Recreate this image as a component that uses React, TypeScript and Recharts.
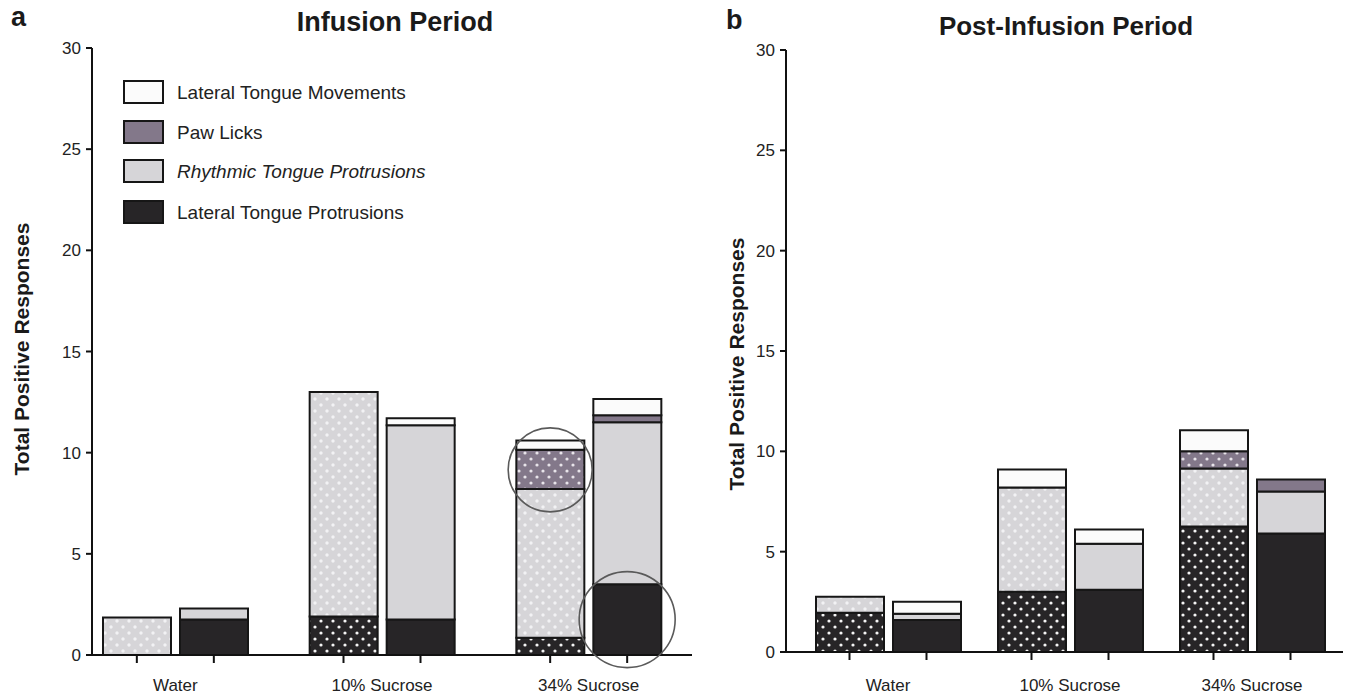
import { BarChart, Bar, XAxis, YAxis, ReferenceDot } from "recharts";

const categories = ["Water", "10% Sucrose", "34% Sucrose"];
const yTicks = [0, 5, 10, 15, 20, 25, 30];

const seriesNames = [
  "Lateral Tongue Movements",
  "Paw Licks",
  "Rhythmic Tongue Protrusions",
  "Lateral Tongue Protrusions",
];

// a: Infusion Period (left bar of each pair is the dotted one)
const infLtpLeft = [0, 1.9, 0.85];
const infRtpLeft = [1.85, 11.1, 7.35];
const infPawLeft = [0, 0, 1.95];
const infLtmLeft = [0, 0, 0.45];
const infLtpRight = [1.75, 1.75, 3.5];
const infRtpRight = [0.55, 9.6, 8.0];
const infPawRight = [0, 0, 0.35];
const infLtmRight = [0, 0.35, 0.8];

// b: Post-Infusion Period
const postLtpLeft = [1.95, 3.0, 6.25];
const postRtpLeft = [0.8, 5.2, 2.9];
const postPawLeft = [0, 0, 0.85];
const postLtmLeft = [0, 0.9, 1.05];
const postLtpRight = [1.6, 3.1, 5.9];
const postRtpRight = [0.3, 2.3, 2.1];
const postPawRight = [0, 0, 0.6];
const postLtmRight = [0.6, 0.7, 0];

// circled segments in panel a (34% Sucrose)
const circlePawLeft = 9.15;
const circleLtpRight = 1.75;

const DARK = "#272527";
const LIGHT = "#d6d5d8";
const PAW = "#83788a";
const WHITE = "#fbfbfb";
const EDGE = "#161616";
const FONT = "'Liberation Sans', Arial, sans-serif";

const BAR_SIZE = 68;
const BAR_GAP = 9;
const HALF = (BAR_SIZE + BAR_GAP) / 2;

function buildRows(left: number[][], right: number[][]) {
  return categories.map((cat, i) => ({
    cat,
    ltpL: left[0][i],
    rtpL: left[1][i],
    pawL: left[2][i],
    ltmL: left[3][i],
    ltpR: right[0][i],
    rtpR: right[1][i],
    pawR: right[2][i],
    ltmR: right[3][i],
  }));
}

const infRows = buildRows(
  [infLtpLeft, infRtpLeft, infPawLeft, infLtmLeft],
  [infLtpRight, infRtpRight, infPawRight, infLtmRight]
);
const postRows = buildRows(
  [postLtpLeft, postRtpLeft, postPawLeft, postLtmLeft],
  [postLtpRight, postRtpRight, postPawRight, postLtmRight]
);

function Patterns({ id }: { id: string }) {
  const dots = (name: string, bg: string, dot: string, r: number) => (
    <pattern id={`${id}-${name}`} width="12" height="12" patternUnits="userSpaceOnUse">
      <rect width="12" height="12" fill={bg} />
      <circle cx="3" cy="3" r={r} fill={dot} />
      <circle cx="9" cy="9" r={r} fill={dot} />
    </pattern>
  );
  return (
    <defs>
      {dots("dark", DARK, "#f4f4f4", 1.6)}
      {dots("light", LIGHT, "#f2f2f4", 1.7)}
      {dots("paw", PAW, "#e8e4ea", 1.6)}
    </defs>
  );
}

function CatTick(props: any) {
  const { x, y, payload, labelDy } = props;
  return (
    <g>
      <line x1={x - HALF} x2={x - HALF} y1={y} y2={y + 8} stroke="#111" strokeWidth={2} />
      <line x1={x + HALF} x2={x + HALF} y1={y} y2={y + 8} stroke="#111" strokeWidth={2} />
      <text x={x} y={y + labelDy} textAnchor="middle" fontSize={17} fill="#222" fontFamily={FONT}>
        {payload.value}
      </text>
    </g>
  );
}

function Panel({
  id,
  rows,
  width,
  margin,
  padLeft,
  labelDy,
  children,
}: {
  id: string;
  rows: any[];
  width: number;
  margin: { top: number; right: number; bottom: number; left: number };
  padLeft: number;
  labelDy: number;
  children?: any;
}) {
  const stroke = { stroke: EDGE, strokeWidth: 2 };
  return (
    <BarChart
      width={width}
      height={698}
      data={rows}
      margin={margin}
      barSize={BAR_SIZE}
      barGap={BAR_GAP}
      style={{ fontFamily: FONT }}
    >
      <Patterns id={id} />
      <XAxis
        dataKey="cat"
        height={30}
        padding={{ left: padLeft, right: 0 }}
        tickSize={0}
        tickMargin={0}
        tickLine={false}
        axisLine={{ stroke: "#111", strokeWidth: 2 }}
        tick={<CatTick labelDy={labelDy} />}
        interval={0}
      />
      <YAxis
        width={40}
        domain={[0, 30]}
        ticks={yTicks}
        interval={0}
        tickSize={6}
        tickMargin={5}
        axisLine={{ stroke: "#111", strokeWidth: 2 }}
        tickLine={{ stroke: "#111", strokeWidth: 2 }}
        tick={{ fontSize: 17, fill: "#222", fontFamily: FONT }}
      />
      <Bar dataKey="ltpL" stackId="L" fill={`url(#${id}-dark)`} {...stroke} isAnimationActive={false} />
      <Bar dataKey="rtpL" stackId="L" fill={`url(#${id}-light)`} {...stroke} isAnimationActive={false} />
      <Bar dataKey="pawL" stackId="L" fill={`url(#${id}-paw)`} {...stroke} isAnimationActive={false} />
      <Bar dataKey="ltmL" stackId="L" fill={WHITE} {...stroke} isAnimationActive={false} />
      <Bar dataKey="ltpR" stackId="R" fill={DARK} {...stroke} isAnimationActive={false} />
      <Bar dataKey="rtpR" stackId="R" fill={LIGHT} {...stroke} isAnimationActive={false} />
      <Bar dataKey="pawR" stackId="R" fill={PAW} {...stroke} isAnimationActive={false} />
      <Bar dataKey="ltmR" stackId="R" fill={WHITE} {...stroke} isAnimationActive={false} />
      {children}
    </BarChart>
  );
}

const legendFills = [WHITE, PAW, LIGHT, DARK];
const legendY = [81, 121, 160, 201];

export default function App() {
  return (
    <div
      style={{
        position: "absolute",
        left: 0,
        top: 0,
        width: 1356,
        height: 698,
        background: "#fff",
        fontFamily: FONT,
        overflow: "hidden",
      }}
    >
      <div style={{ position: "absolute", left: 0, top: 0 }}>
        <Panel
          id="inf"
          rows={infRows}
          width={720}
          margin={{ top: 48, right: 28, bottom: 13, left: 52 }}
          padLeft={-20}
          labelDy={36}
        >
          <ReferenceDot
            x={categories[2]}
            y={circlePawLeft}
            ifOverflow="visible"
            shape={(p: any) => (
              <circle cx={p.cx - HALF} cy={p.cy} r={42} fill="none" stroke="#5a5a5a" strokeWidth={1.6} />
            )}
          />
          <ReferenceDot
            x={categories[2]}
            y={circleLtpRight}
            ifOverflow="visible"
            shape={(p: any) => (
              <circle cx={p.cx + HALF} cy={p.cy} r={48} fill="none" stroke="#5a5a5a" strokeWidth={1.6} />
            )}
          />
        </Panel>
      </div>
      <div style={{ position: "absolute", left: 700, top: 0 }}>
        <Panel
          id="post"
          rows={postRows}
          width={656}
          margin={{ top: 50, right: 13, bottom: 16, left: 46 }}
          padLeft={11}
          labelDy={39}
        />
      </div>
      <svg
        width={1356}
        height={698}
        style={{ position: "absolute", left: 0, top: 0, pointerEvents: "none" }}
        fontFamily={FONT}
      >
        <text x={11} y={26} fontSize={27} fontWeight="bold" fill="#1a1a1a">a</text>
        <text x={395} y={31} fontSize={27} fontWeight="bold" textAnchor="middle" fill="#1a1a1a">
          Infusion Period
        </text>
        <text x={726} y={29} fontSize={27} fontWeight="bold" fill="#1a1a1a">b</text>
        <text x={1066} y={35} fontSize={26} fontWeight="bold" textAnchor="middle" fill="#1a1a1a">
          Post-Infusion Period
        </text>
        <text
          transform="translate(29,349) rotate(-90)"
          textAnchor="middle"
          fontSize={21}
          fontWeight="bold"
          fill="#1a1a1a"
        >
          Total Positive Responses
        </text>
        <text
          transform="translate(744,364) rotate(-90)"
          textAnchor="middle"
          fontSize={21}
          fontWeight="bold"
          fill="#1a1a1a"
        >
          Total Positive Responses
        </text>
        {seriesNames.map((name, i) => (
          <g key={name}>
            <rect
              x={124}
              y={legendY[i]}
              width={39}
              height={22}
              fill={legendFills[i]}
              stroke={EDGE}
              strokeWidth={2}
            />
            <text
              x={177}
              y={legendY[i] + 18}
              fontSize={19}
              fill="#222"
              fontStyle={i === 2 ? "italic" : "normal"}
            >
              {name}
            </text>
          </g>
        ))}
      </svg>
    </div>
  );
}
